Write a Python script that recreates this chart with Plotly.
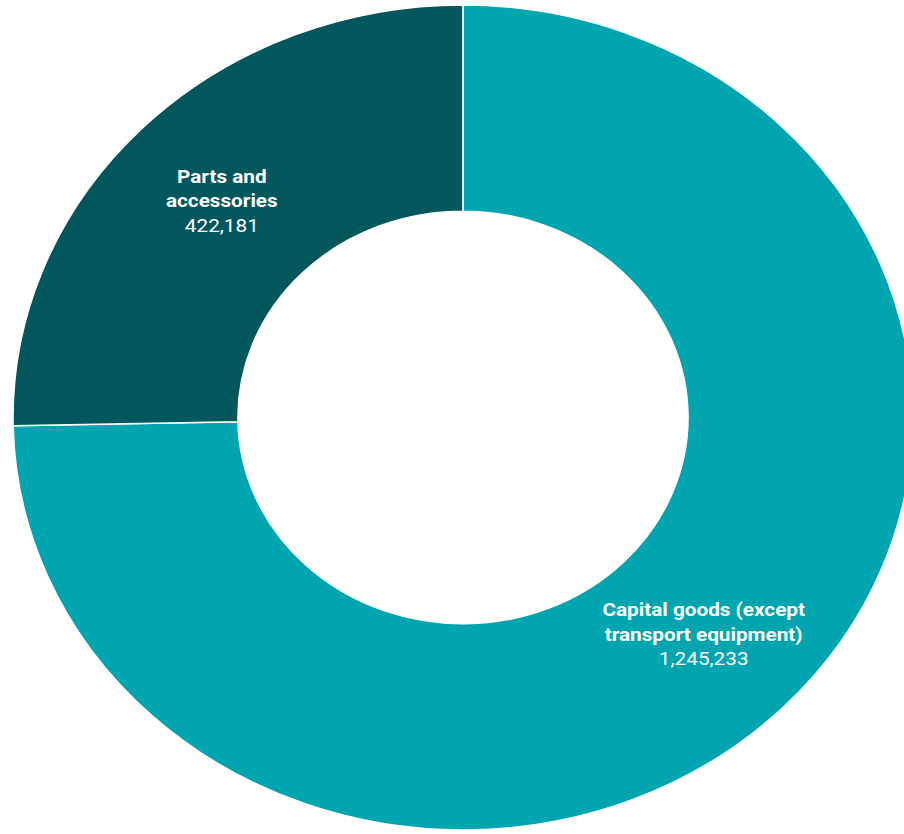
import plotly.graph_objects as go

# Data
categories = ["Capital goods (except transport equipment)", "Parts and accessories"]
label_lines = ["Capital goods (except<br>transport equipment)", "Parts and<br>accessories"]
values = [1245233, 422181]
colors = ["#00A5AF", "#02575D"]

W, H = 840, 834
cx, cy, r = 424.4, 417.5, 412.5

fig = go.Figure(go.Pie(
    labels=categories,
    values=values,
    text=label_lines,
    texttemplate="<b>%{text}</b><br>%{value:,}",
    textinfo="text+value",
    textposition="inside",
    insidetextorientation="horizontal",
    insidetextfont=dict(family="Roboto, sans-serif", size=19, color="white"),
    hole=0.5,
    sort=False,
    direction="clockwise",
    rotation=0,
    marker=dict(colors=colors, line=dict(color="white", width=1.5)),
    domain=dict(x=[(cx - r) / W, (cx + r) / W], y=[(H - cy - r) / H, (H - cy + r) / H]),
    showlegend=False,
))

fig.update_layout(
    width=W, height=H,
    margin=dict(l=0, r=0, t=0, b=0, pad=0),
    paper_bgcolor="white",
    plot_bgcolor="white",
    font=dict(family="Roboto, sans-serif"),
)

post = """
var gd = document.getElementById('{plot_id}');
document.body.style.margin = '0';
document.body.style.overflow = 'hidden';
document.documentElement.style.overflow = 'hidden';
gd.style.transformOrigin = '0 0';
gd.style.transform = 'scaleX(1.0909)';
"""

fig.write_html("out.html", post_script=post, config={"displayModeBar": False})
